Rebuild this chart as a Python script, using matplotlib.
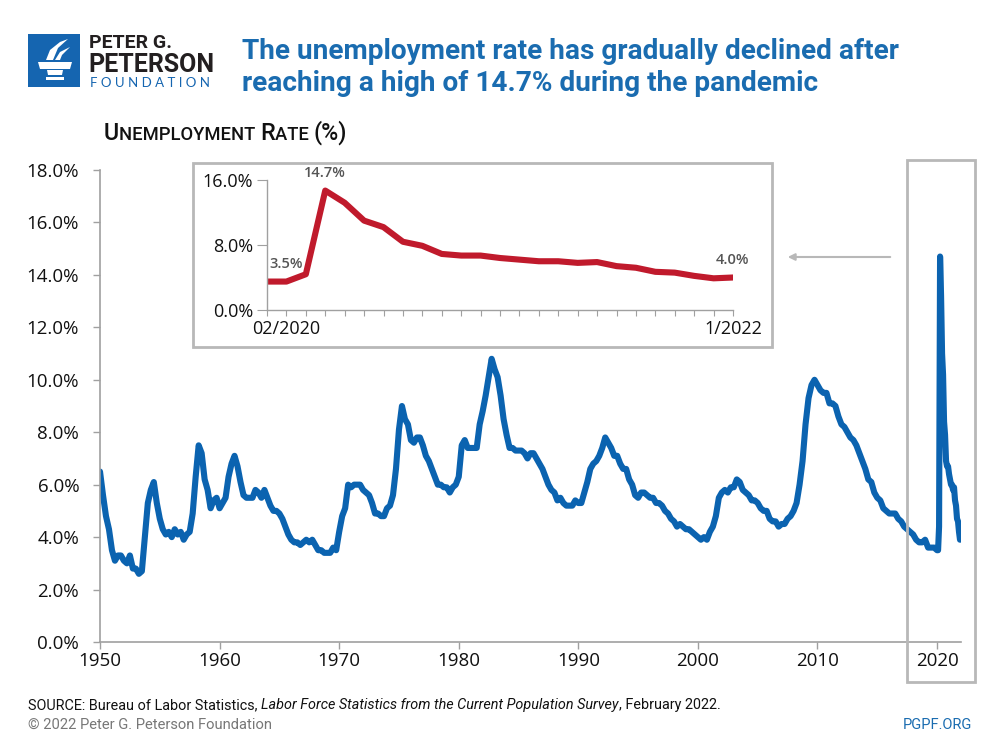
import matplotlib
matplotlib.use("Agg")
import matplotlib.pyplot as plt
from matplotlib.patches import Rectangle, Polygon, FancyArrowPatch
import numpy as np

# ---------------- data ----------------
# quarterly unemployment rate 1950-2019 (%)
rate_1950_2019 = [
    6.5, 5.6, 4.8, 4.3,   3.5, 3.1, 3.3, 3.3,   3.1, 3.0, 3.3, 2.8,   2.8, 2.6, 2.7, 4.0,
    5.3, 5.8, 6.1, 5.3,   4.7, 4.3, 4.1, 4.2,   4.0, 4.3, 4.1, 4.2,   3.9, 4.1, 4.2, 4.9,
    6.3, 7.5, 7.2, 6.2,   5.8, 5.1, 5.4, 5.5,   5.1, 5.3, 5.5, 6.3,   6.8, 7.1, 6.7, 6.1,
    5.6, 5.5, 5.5, 5.5,   5.8, 5.7, 5.5, 5.8,   5.5, 5.2, 5.0, 5.0,   4.9, 4.7, 4.4, 4.1,
    3.9, 3.8, 3.8, 3.7,   3.8, 3.9, 3.8, 3.9,   3.7, 3.5, 3.5, 3.4,   3.4, 3.4, 3.6, 3.5,
    4.2, 4.8, 5.1, 6.0,   5.9, 6.0, 6.0, 6.0,   5.8, 5.7, 5.6, 5.3,   4.9, 4.9, 4.8, 4.8,
    5.1, 5.2, 5.6, 6.6,   8.1, 9.0, 8.5, 8.3,   7.7, 7.6, 7.8, 7.8,   7.5, 7.1, 6.9, 6.6,
    6.3, 6.0, 6.0, 5.9,   5.9, 5.7, 5.9, 6.0,   6.3, 7.5, 7.7, 7.4,   7.4, 7.4, 7.4, 8.3,
    8.8, 9.4, 10.1, 10.8, 10.4, 10.1, 9.4, 8.5, 7.9, 7.4, 7.4, 7.3,   7.3, 7.3, 7.2, 7.0,
    7.2, 7.2, 7.0, 6.8,   6.6, 6.3, 6.0, 5.8,   5.7, 5.4, 5.5, 5.3,   5.2, 5.2, 5.2, 5.4,
    5.3, 5.3, 5.7, 6.1,   6.6, 6.8, 6.9, 7.1,   7.4, 7.8, 7.6, 7.4,   7.1, 7.1, 6.8, 6.6,
    6.6, 6.2, 6.0, 5.6,   5.5, 5.7, 5.7, 5.6,   5.5, 5.5, 5.3, 5.3,   5.2, 5.0, 4.9, 4.7,
    4.6, 4.4, 4.5, 4.4,   4.3, 4.3, 4.2, 4.1,   4.0, 3.9, 4.0, 3.9,   4.2, 4.4, 4.8, 5.5,
    5.7, 5.8, 5.7, 5.9,   5.9, 6.2, 6.1, 5.8,   5.7, 5.6, 5.4, 5.4,   5.3, 5.1, 5.0, 5.0,
    4.7, 4.6, 4.6, 4.4,   4.5, 4.5, 4.7, 4.8,   5.0, 5.3, 6.0, 6.9,   8.3, 9.3, 9.8, 10.0,
    9.8, 9.6, 9.5, 9.5,   9.1, 9.1, 9.0, 8.6,   8.3, 8.2, 8.0, 7.8,   7.7, 7.5, 7.2, 6.9,
    6.6, 6.2, 6.1, 5.7,   5.5, 5.4, 5.1, 5.0,   4.9, 4.9, 4.9, 4.7,   4.6, 4.4, 4.3, 4.2,
    4.1, 3.9, 3.8, 3.8,   3.9, 3.6, 3.6, 3.6,
]
# monthly Jan 2020 - Jan 2022 (%)
rate_2020_2022 = [3.5, 3.5, 4.4, 14.7, 13.2, 11.0, 10.2, 8.4, 7.9, 6.9, 6.7, 6.7,
                  6.4, 6.2, 6.0, 6.0, 5.8, 5.9, 5.4, 5.2, 4.7, 4.6, 4.2, 3.9, 4.0]

main_yticks = [0, 2, 4, 6, 8, 10, 12, 14, 16, 18]
main_xticks = [1950, 1960, 1970, 1980, 1990, 2000, 2010, 2020]
inset_yticks = [0, 8, 16]
inset_xlabels = {1: "02/2020", 24: "1/2022"}
inset_notes = {1: "3.5%", 3: "14.7%", 24: "4.0%"}

BLUE = "#0b63b0"
RED = "#c01a2c"
GRAY = "#b8b8b8"
TITLE_BLUE = "#1a6cb0"
TICKFONT = ["Open Sans", "DejaVu Sans"]
COND = ["Roboto", "DejaVu Sans"]

plt.rcParams["font.family"] = TICKFONT

W, H = 1000, 750
fig = plt.figure(figsize=(10, 7.5), dpi=100)

def fx(px):
    return px / W

def fy(py):
    return 1 - py / H

# ---------------- main axes ----------------
ax = fig.add_axes([fx(100), fy(642), fx(961) - fx(100), fy(170) - fy(642)])
x_q = 1950 + np.arange(len(rate_1950_2019)) / 4.0
x_m = 2020 + np.arange(len(rate_2020_2022)) / 12.0
xs = np.concatenate([x_q, x_m])
ys = np.concatenate([rate_1950_2019, rate_2020_2022])
ax.plot(xs, ys, color=BLUE, lw=4.4, solid_joinstyle="round", solid_capstyle="round")
ax.set_xlim(1950, 2022)
ax.set_ylim(0, 18)
ax.set_yticks(main_yticks)
ax.set_yticklabels([f"{v:.1f}%" for v in main_yticks])
ax.set_xticks(main_xticks)
ax.set_xticklabels([str(v) for v in main_xticks])
for s in ["top", "right"]:
    ax.spines[s].set_visible(False)
for s in ["left", "bottom"]:
    ax.spines[s].set_color("#a0a0a0")
    ax.spines[s].set_linewidth(1.2)
ax.tick_params(axis="both", colors="#a0a0a0", labelcolor="#111111", labelsize=13.5,
               length=5, width=1.0)
ax.tick_params(axis="y", pad=10)
ax.tick_params(axis="x", pad=2)
ax.patch.set_alpha(0)

# ---------------- inset ----------------
fig.patches.append(Rectangle((fx(193), fy(347)), fx(772) - fx(193), fy(163) - fy(347),
                             transform=fig.transFigure, fill=True, facecolor="white",
                             edgecolor=GRAY, lw=2.0, zorder=5))
iax = fig.add_axes([fx(267), fy(310), fx(733) - fx(267), fy(180) - fy(310)], zorder=6)
idx = np.arange(len(rate_2020_2022))
iax.plot(idx, rate_2020_2022, color=RED, lw=4.4, solid_joinstyle="round")
iax.set_xlim(0, 24)
iax.set_ylim(0, 16)
iax.set_yticks(inset_yticks)
iax.set_yticklabels([f"{v:.1f}%" for v in inset_yticks])
iax.set_xticks(idx)
iax.set_xticklabels([inset_xlabels.get(i, "") for i in idx])
for s in ["top", "right"]:
    iax.spines[s].set_visible(False)
for s in ["left", "bottom"]:
    iax.spines[s].set_color("#a0a0a0")
    iax.spines[s].set_linewidth(1.0)
iax.tick_params(axis="both", colors="#a0a0a0", labelcolor="#111111", labelsize=13,
                length=4, width=0.8)
iax.tick_params(axis="y", length=7, pad=3)
iax.tick_params(axis="x", pad=3)
iax.patch.set_alpha(0)
for i, t in inset_notes.items():
    iax.annotate(t, (i, rate_2020_2022[i]), xytext=(0, 7.5), textcoords="offset points",
                 ha="center", va="bottom", fontsize=10.5, color="#555555",
                 fontweight="semibold")

# gray box around 2020 + arrow
fig.patches.append(Rectangle((fx(907), fy(682)), fx(975) - fx(907), fy(160) - fy(682),
                             transform=fig.transFigure, fill=False, edgecolor=GRAY,
                             lw=2.0, zorder=4))
fig.patches.append(FancyArrowPatch((fx(893), fy(257)), (fx(785), fy(257)),
                                   transform=fig.transFigure, arrowstyle="-|>",
                                   mutation_scale=10, color=GRAY, lw=1.5))

# ---------------- header ----------------
LOGO_BLUE = "#1565b0"
fig.patches.append(Rectangle((fx(28), fy(87)), fx(80) - fx(28), fy(34) - fy(87),
                             transform=fig.transFigure, facecolor=LOGO_BLUE,
                             edgecolor="none"))
def poly(pts):
    fig.patches.append(Polygon([(fx(a), fy(b)) for a, b in pts], closed=True,
                               transform=fig.transFigure, facecolor="white",
                               edgecolor="none"))
poly([(38, 62), (72, 62), (70, 69), (40, 69)])          # cup rim
poly([(47, 70), (63, 70), (62, 75), (48, 75)])          # stem
poly([(46, 77), (64, 77), (64, 80), (46, 80)])          # base
poly([(46, 60), (50, 50), (60, 42), (68, 39), (58, 48), (53, 60)])   # flame 1
poly([(55, 60), (60, 52), (70, 47), (62, 55), (60, 60)])             # flame 2

fig.text(fx(89), fy(48), "PETER G.", fontsize=14, fontweight="bold", color="#231f20",
         va="baseline", ha="left", family=COND)
fig.text(fx(88), fy(72), "PETERSON", fontsize=18, fontweight="bold", color="#231f20",
         va="baseline", ha="left", family=COND)
fig.text(fx(90), fy(87), "F O U N D A T I O N", fontsize=9.5, color=LOGO_BLUE,
         va="baseline", ha="left", family=["Lato", "DejaVu Sans"])

fig.text(fx(242), fy(59), "The unemployment rate has gradually declined after",
         fontsize=20.2, fontweight="bold", color=TITLE_BLUE, va="baseline", ha="left",
         family=COND)
fig.text(fx(242), fy(91), "reaching a high of 14.7% during the pandemic",
         fontsize=20.2, fontweight="bold", color=TITLE_BLUE, va="baseline", ha="left",
         family=COND)

# small-caps axis title
renderer = fig.canvas.get_renderer()
def seq_text(x0, y0, pieces, **kw):
    x = x0
    for txt, size, extra in pieces:
        opts = dict(kw)
        opts.update(extra)
        t = fig.text(x, y0, txt, fontsize=size, va="baseline", ha="left", **opts)
        bb = t.get_window_extent(renderer=renderer)
        x += bb.width / W
    return x

seq_text(fx(104), fy(140), [("U", 16.8, {}), ("NEMPLOYMENT ", 13.2, {}), ("R", 16.8, {}),
                            ("ATE ", 13.2, {}), ("(%)", 16.8, {})],
         color="#111111", family=COND, fontweight="medium")

# ---------------- footer ----------------
seq_text(fx(28), fy(709), [("SOURCE: Bureau of Labor Statistics, ", 10.4, {}),
                           ("Labor Force Statistics from the Current Population Survey", 10.4,
                            {"style": "italic"}),
                           (", February 2022.", 10.4, {})],
         color="#111111", family=COND)
fig.text(fx(28), fy(729), "\u00a9 2022 Peter G. Peterson Foundation", fontsize=10.6,
         color="#777777", va="baseline", ha="left", family=COND)
fig.text(fx(972), fy(729), "PGPF.ORG", fontsize=10.5, color="#1a6cb0", va="baseline",
         ha="right", family=COND)

fig.savefig("out.png", dpi=100, facecolor="white")
